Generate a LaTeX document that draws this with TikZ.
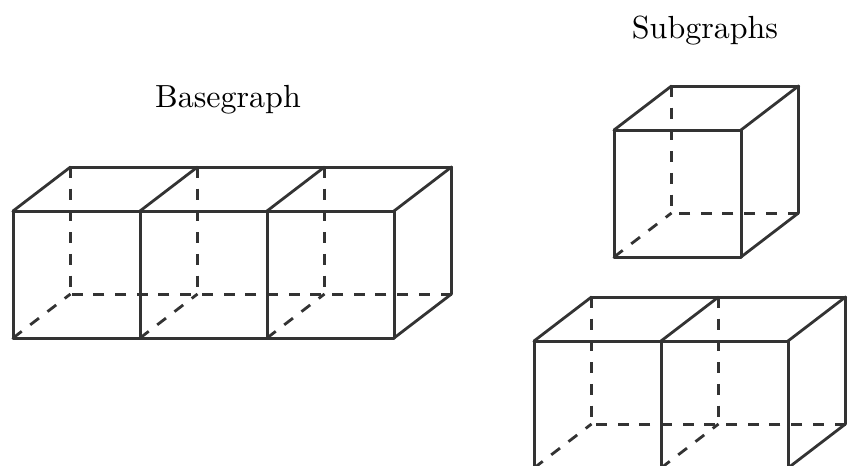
\documentclass[tikz,border=0pt]{standalone}
\tikzset{
  edge/.style={line width=3pt,draw=black!80,line cap=round,line join=round},
  slant/.style={line width=2.8pt,draw=black!80,line cap=round},
  hidden/.style={line width=3pt,draw=black!80,dash pattern=on 11pt off 10.7pt},
  hiddenslant/.style={line width=2.8pt,draw=black!80,dash pattern=on 11pt off 10.7pt},
  title/.style={scale=3.2,anchor=base,text=black,inner sep=0pt}
}
% #1 name prefix, #2 x of front-left corner, #3 y of front top, #4 number of cells
\newcommand{\boxrow}[4]{%
  \foreach \i in {0,...,#4}{
    \pgfmathsetmacro{\fx}{#2+127*\i}
    \pgfmathsetmacro{\bx}{\fx+57.5}
    \coordinate (#1ft\i) at (\fx,#3);
    \coordinate (#1fb\i) at (\fx,#3+127);
    \coordinate (#1bt\i) at (\bx,#3-44);
    \coordinate (#1bb\i) at (\bx,#3+83);
  }
  \draw[hidden] (#1bb#4) -- (#1bb0);
  \foreach \i in {0,...,#4}{
    \ifnum\i<#4
      \draw[hidden] (#1bt\i) -- (#1bb\i);
      \draw[hiddenslant] (#1fb\i) -- (#1bb\i);
    \fi
  }
  \draw[edge] (#1ft0) -- (#1ft#4);
  \draw[edge] (#1bt0) -- (#1bt#4);
  \draw[edge] (#1fb0) -- (#1fb#4);
  \draw[edge] (#1bb#4) -- (#1bt#4);
  \draw[slant] (#1fb#4) -- (#1bb#4);
  \foreach \i in {0,...,#4}{
    \draw[edge] (#1ft\i) -- (#1fb\i);
    \draw[slant] (#1ft\i) -- (#1bt\i);
  }
}
\begin{document}
\begin{tikzpicture}[x=1pt,y=-1pt]
\path[use as bounding box,fill=white] (0,0) rectangle (849,466);
\clip (0,0) rectangle (849,466);
\node[title] (base) at (228,107) {Basegraph};
\node[title] (sub) at (705,38) {Subgraphs};
\boxrow{a}{13}{211}{3}
\boxrow{b}{614}{130}{1}
\boxrow{c}{534}{341}{2}
\end{tikzpicture}
\end{document}
